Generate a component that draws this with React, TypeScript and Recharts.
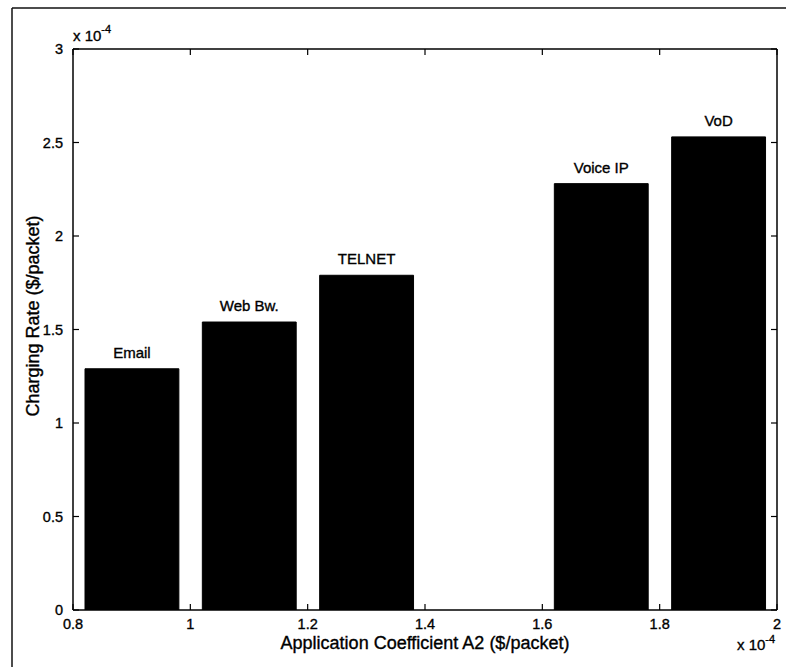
import { BarChart, Bar, XAxis, YAxis, LabelList } from 'recharts';

// Charging rate per application class; both axes are in units of 1e-4 $/packet
const apps = ['Email', 'Web Bw.', 'TELNET', 'Voice IP', 'VoD'];
const coeffA2 = [0.9, 1.1, 1.3, 1.7, 1.9];
const chargingRate = [1.29, 1.54, 1.79, 2.28, 2.53];

const xTicks = [0.8, 1, 1.2, 1.4, 1.6, 1.8, 2];
const yTicks = [0, 0.5, 1, 1.5, 2, 2.5, 3];
const xDomain: [number, number] = [0.8, 2];
const yDomain: [number, number] = [0, 3];
const barSpan = 0.16; // bar width in x units

const data = apps.map((name, i) => ({ name, x: coeffA2[i], rate: chargingRate[i] }));

const W = 786;
const H = 667;
// the box axes (top / right) need at least 1px or they are not drawn
const margin = { top: 48, right: 8, bottom: 27, left: 13 };
const Y_AXIS_W = 60;
const X_AXIS_H = 30;
const plotW = W - margin.left - Y_AXIS_W - 1 - margin.right;
const barPx = (barSpan / (xDomain[1] - xDomain[0])) * plotW;

const FONT = '"Liberation Sans", Arial, Helvetica, sans-serif';
const TICK = 6;
const AX = { stroke: '#000', strokeWidth: 1.5 };
// scanned-print look: thicken glyphs slightly
const INK = { stroke: '#000', strokeWidth: 0.35 };

const BottomTick = ({ x, y, payload }: any) => (
  <g>
    <line x1={x} y1={y} x2={x} y2={y - TICK} stroke="#000" strokeWidth={1.2} />
    <text x={x} y={y + 19} textAnchor="middle" fontSize={14.5} fontFamily={FONT} fill="#000" {...INK}>
      {payload.value}
    </text>
  </g>
);

const TopTick = ({ x, y }: any) => (
  <line x1={x} y1={y} x2={x} y2={y + TICK} stroke="#000" strokeWidth={1.2} />
);

const LeftTick = ({ x, y, payload }: any) => (
  <g>
    <line x1={x} y1={y} x2={x + TICK} y2={y} stroke="#000" strokeWidth={1.2} />
    <text x={x - 10} y={y} dy="0.36em" textAnchor="end" fontSize={14.5} fontFamily={FONT} fill="#000" {...INK}>
      {payload.value}
    </text>
  </g>
);

const RightTick = ({ x, y }: any) => (
  <line x1={x} y1={y} x2={x - TICK} y2={y} stroke="#000" strokeWidth={1.2} />
);

const BarTag = ({ x, y, width, value }: any) => (
  <text x={x + width / 2} y={y - 11} textAnchor="middle" fontSize={15} fontFamily={FONT} fill="#000" {...INK}>
    {value}
  </text>
);

export default function App() {
  return (
    <div style={{ position: 'absolute', left: 0, top: 0, width: W, height: H, background: '#fff' }}>
      <BarChart width={W} height={H} data={data} margin={margin}>
        <XAxis
          xAxisId="bottom"
          type="number"
          dataKey="x"
          domain={xDomain}
          ticks={xTicks}
          interval={0}
          allowDataOverflow
          height={X_AXIS_H}
          tickSize={0}
          tickMargin={0}
          tickLine={false}
          axisLine={AX}
          tick={<BottomTick />}
        />
        <XAxis
          xAxisId="top"
          orientation="top"
          type="number"
          dataKey="x"
          domain={xDomain}
          ticks={xTicks}
          interval={0}
          allowDataOverflow
          height={1}
          tickSize={0}
          tickMargin={0}
          tickLine={false}
          axisLine={AX}
          tick={<TopTick />}
        />
        <YAxis
          yAxisId="left"
          type="number"
          domain={yDomain}
          ticks={yTicks}
          interval={0}
          allowDataOverflow
          width={Y_AXIS_W}
          tickSize={0}
          tickMargin={0}
          tickLine={false}
          axisLine={AX}
          tick={<LeftTick />}
        />
        <YAxis
          yAxisId="right"
          orientation="right"
          type="number"
          domain={yDomain}
          ticks={yTicks}
          interval={0}
          allowDataOverflow
          width={1}
          tickSize={0}
          tickMargin={0}
          tickLine={false}
          axisLine={AX}
          tick={<RightTick />}
        />
        <Bar
          xAxisId="bottom"
          yAxisId="left"
          dataKey="rate"
          fill="#000"
          stroke="#000"
          strokeWidth={1}
          barSize={barPx}
          isAnimationActive={false}
        >
          <LabelList dataKey="name" content={<BarTag />} />
        </Bar>
      </BarChart>

      {/* figure frame, axis titles and exponent notes */}
      <svg
        width={W}
        height={H}
        style={{ position: 'absolute', left: 0, top: 0, pointerEvents: 'none' }}
        fontFamily={FONT}
        fill="#000"
      >
        <line x1={12} y1={8} x2={W} y2={8} stroke="#111" strokeWidth={1.5} />
        <line x1={12} y1={8} x2={12} y2={H} stroke="#111" strokeWidth={1.5} />

        <g {...INK}>
          <text x={73} y={41} fontSize={15}>
            x 10<tspan dy={-8} fontSize={11}>-4</tspan>
          </text>
          <text x={737} y={650} fontSize={15}>
            x 10<tspan dy={-7} fontSize={11}>-4</tspan>
          </text>

          <text x={425} y={649} textAnchor="middle" fontSize={18}>
            Application Coefficient A2 ($/packet)
          </text>
          <text transform="translate(39,316) rotate(-90)" textAnchor="middle" fontSize={18}>
            Charging Rate ($/packet)
          </text>
        </g>
      </svg>
    </div>
  );
}
